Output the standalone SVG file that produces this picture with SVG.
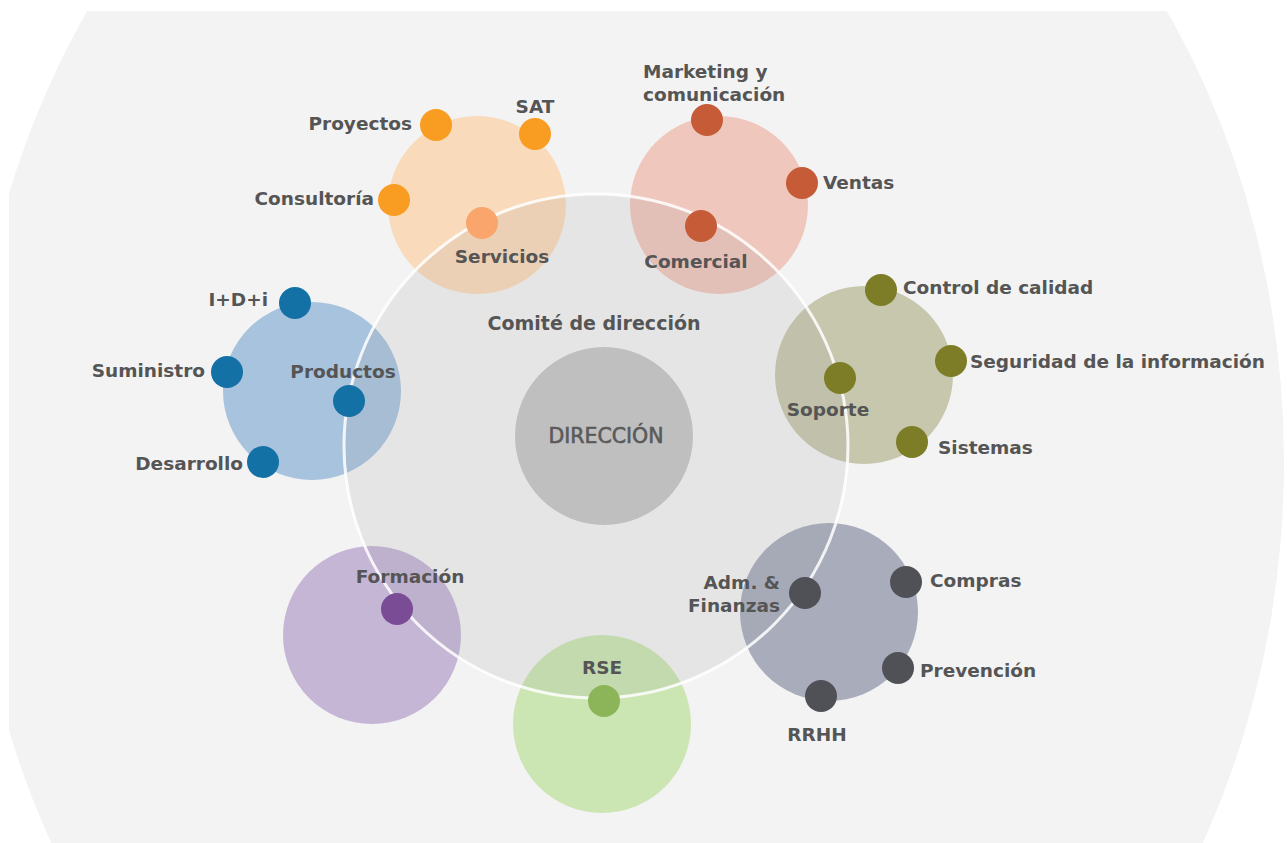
<svg xmlns="http://www.w3.org/2000/svg" width="1287" height="843" viewBox="0 0 1287 843">
<style>
.lbl{font-family:"DejaVu Sans","Liberation Sans",sans-serif;font-weight:bold;font-size:18.5px;fill:#555555}
.mid{text-anchor:middle}
.end{text-anchor:end}
.dot{stroke:none}
</style>
<defs>
<clipPath id="bgclip"><rect x="9" y="11" width="1278" height="832"/></clipPath>
</defs>
<rect width="1287" height="843" fill="#ffffff"/>
<ellipse cx="627" cy="462" rx="657" ry="791" fill="#f3f3f3" clip-path="url(#bgclip)"/>

<g id="areas">
<circle id="area-servicios" cx="477" cy="205" r="89" fill="#f9dabb"/>
<circle id="area-comercial" cx="719" cy="205" r="89" fill="#f0c7bc"/>
<circle id="area-soporte" cx="864" cy="375" r="89" fill="#c7c7ae"/>
<circle id="area-administracion" cx="829" cy="612" r="89" fill="#a9adbb"/>
<circle id="area-rse" cx="602" cy="724" r="89" fill="#cbe5b3"/>
<circle id="area-formacion" cx="372" cy="635" r="89" fill="#c5b6d6"/>
<circle id="area-productos" cx="312" cy="391" r="89" fill="#a8c3de"/>
</g>

<g id="comite">
<circle cx="596" cy="446" r="252" fill="#9a9a9a" fill-opacity="0.15" stroke="#ffffff" stroke-opacity="0.85" stroke-width="3"/>
<text class="lbl mid" x="594" y="330" style="font-size:19px">Comité de dirección</text>
</g>

<g id="direccion">
<circle cx="604" cy="436" r="89" fill="#bfbfbf"/>
<text x="606" y="443" text-anchor="middle" stroke="#5a5a5a" stroke-width="0.6" style="font-family:'DejaVu Sans','Liberation Sans',sans-serif;font-size:20.5px;fill:#5a5a5a">DIRECCIÓN</text>
</g>

<g id="connectors"></g>

<g id="node-servicios">
<circle class="dot" cx="436" cy="125" r="16" fill="#f89c22"/>
<circle class="dot" cx="535" cy="134" r="16" fill="#f89c22"/>
<circle class="dot" cx="394" cy="200" r="16" fill="#f89c22"/>
<circle class="dot" cx="482" cy="223" r="16" fill="#f9a56c"/>
<text class="lbl end" x="412" y="130">Proyectos</text>
<text class="lbl mid" x="535" y="113">SAT</text>
<text class="lbl end" x="374" y="205">Consultoría</text>
<text class="lbl mid" x="502" y="263">Servicios</text>
</g>

<g id="node-comercial">
<circle class="dot" cx="707" cy="120" r="16" fill="#c65c37"/>
<circle class="dot" cx="802" cy="183" r="16" fill="#c65c37"/>
<circle class="dot" cx="701" cy="226" r="16" fill="#c65c37"/>
<text class="lbl" x="643" y="78">Marketing y</text>
<text class="lbl" x="643" y="101">comunicación</text>
<text class="lbl" x="823" y="189">Ventas</text>
<text class="lbl mid" x="696" y="268">Comercial</text>
</g>

<g id="node-soporte">
<circle class="dot" cx="881" cy="290" r="16" fill="#7d7d28"/>
<circle class="dot" cx="951" cy="361" r="16" fill="#7d7d28"/>
<circle class="dot" cx="840" cy="378" r="16" fill="#7d7d28"/>
<circle class="dot" cx="912" cy="442" r="16" fill="#7d7d28"/>
<text class="lbl" x="903" y="294">Control de calidad</text>
<text class="lbl" x="970" y="368">Seguridad de la información</text>
<text class="lbl mid" x="828" y="416">Soporte</text>
<text class="lbl" x="938" y="454">Sistemas</text>
</g>

<g id="node-administracion">
<circle class="dot" cx="805" cy="593" r="16" fill="#505156"/>
<circle class="dot" cx="906" cy="582" r="16" fill="#505156"/>
<circle class="dot" cx="898" cy="668" r="16" fill="#505156"/>
<circle class="dot" cx="821" cy="696" r="16" fill="#505156"/>
<text class="lbl end" x="780" y="589">Adm. &amp;</text>
<text class="lbl end" x="780" y="612">Finanzas</text>
<text class="lbl" x="930" y="587">Compras</text>
<text class="lbl" x="920" y="677">Prevención</text>
<text class="lbl mid" x="817" y="741">RRHH</text>
</g>

<g id="node-rse">
<circle class="dot" cx="604" cy="701" r="16" fill="#8cb55a"/>
<text class="lbl mid" x="602" y="674">RSE</text>
</g>

<g id="node-formacion">
<circle class="dot" cx="397" cy="609" r="16" fill="#7a4c96"/>
<text class="lbl mid" x="410" y="583">Formación</text>
</g>

<g id="node-productos">
<circle class="dot" cx="295" cy="303" r="16" fill="#1471a6"/>
<circle class="dot" cx="227" cy="372" r="16" fill="#1471a6"/>
<circle class="dot" cx="349" cy="401" r="16" fill="#1471a6"/>
<circle class="dot" cx="263" cy="462" r="16" fill="#1471a6"/>
<text class="lbl end" x="268" y="306">I+D+i</text>
<text class="lbl end" x="205" y="377">Suministro</text>
<text class="lbl mid" x="343" y="378">Productos</text>
<text class="lbl end" x="243" y="470">Desarrollo</text>
</g>
</svg>
